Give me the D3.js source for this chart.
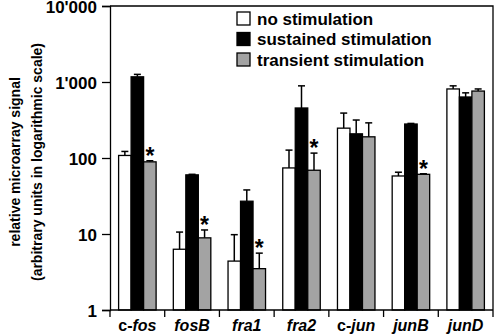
<!DOCTYPE html>
<html><head><meta charset="utf-8">
<script src="https://cdn.jsdelivr.net/npm/d3@7"></script>
<style>
body{margin:0;background:#fff}
svg{display:block}
text{font-family:Arial,"Liberation Sans",sans-serif;font-weight:bold;fill:#000}
</style>
</head><body>
<svg width="496" height="336"></svg>
<script>
const categories=["c-fos","fosB","fra1","fra2","c-jun","junB","junD"];
const seriesNames=["no stimulation","sustained stimulation","transient stimulation"];
const noStim=[108,6.3,4.4,74,247,58,810];
const noStimErr=[122,10.6,9.8,127,390,65,890];
const sustained=[1170,60,27,455,208,280,635];
const sustainedErr=[1260,61,38,890,316,285,720];
const transient=[89,8.9,3.5,69,190,61,760];
const transientErr=[92,11.3,5.6,116,290,62,810];
const significant=[true,true,true,true,false,true,false];
const yTicks=[1,10,100,1000,10000];
const yTickLabels=["1","10","100","1'000","10'000"];

const fills=["#ffffff","#000000","#a3a3a3"];
const values=[noStim,sustained,transient];
const errs=[noStimErr,sustainedErr,transientErr];

const svg=d3.select("svg");
const L=110,R=493,T=6,B=310;
const x=d3.scaleBand().domain(categories).range([L,R]).paddingInner(0).paddingOuter(0);
const gw=37.5;
const xs=d3.scaleBand().domain(seriesNames).range([0,gw]).padding(0);
const y=d3.scaleLog().domain([1,10000]).range([B,T]);

// box
svg.append("path").attr("d",`M${L},${T}H${R}V${B}`).attr("fill","none").attr("stroke","#000").attr("stroke-width",1.3);

// bars
const data=[];
categories.forEach((c,i)=>seriesNames.forEach((s,j)=>data.push({c,s,j,v:values[j][i],e:errs[j][i],i})));
const off=(x.bandwidth()-gw)/2;
const g=svg.append("g");
// error bars
data.forEach(d=>{
  const cx=x(d.c)+off+xs(d.s)+xs.bandwidth()/2;
  g.append("line").attr("x1",cx).attr("x2",cx).attr("y1",y(d.v)).attr("y2",y(d.e)).attr("stroke","#000").attr("stroke-width",1.5);
  g.append("line").attr("x1",cx-3.5).attr("x2",cx+3.5).attr("y1",y(d.e)).attr("y2",y(d.e)).attr("stroke","#000").attr("stroke-width",1.5);
});
g.selectAll("rect").data(data).join("rect")
  .attr("x",d=>x(d.c)+off+xs(d.s))
  .attr("width",xs.bandwidth())
  .attr("y",d=>y(d.v))
  .attr("height",d=>B-y(d.v))
  .attr("fill",d=>fills[d.j])
  .attr("stroke","#000").attr("stroke-width",1.3);

// stars
categories.forEach((c,i)=>{
  if(!significant[i])return;
  const cx=x(c)+off+xs(seriesNames[2])+xs.bandwidth()/2;
  svg.append("text").attr("x",cx).attr("y",y(transientErr[i])+3).attr("text-anchor","middle").attr("font-size",23).text("*");
});

// y axis
const ya=svg.append("g").attr("transform",`translate(${L},0)`)
  .call(d3.axisLeft(y).tickValues(yTicks).tickFormat((d,i)=>yTickLabels[i]).tickSize(8).tickPadding(5));
ya.select(".domain").attr("stroke-width",1.3);
ya.selectAll(".tick line").attr("stroke-width",1.3);
ya.selectAll("text").attr("font-size",17).attr("font-family","Arial, 'Liberation Sans', sans-serif").attr("font-weight","bold").attr("dy","0.36em");

// x axis
const xa=svg.append("g").attr("transform",`translate(0,${B})`);
xa.append("line").attr("x1",L).attr("x2",R).attr("stroke","#000").attr("stroke-width",1.3);
const bounds=categories.map(c=>x(c)).concat([R]);
xa.selectAll("line.tk").data(bounds).join("line").attr("class","tk")
  .attr("x1",d=>d).attr("x2",d=>d).attr("y1",0).attr("y2",7).attr("stroke","#000").attr("stroke-width",1.3);
categories.forEach(c=>{
  const t=xa.append("text").attr("x",x(c)+x.bandwidth()/2).attr("y",21).attr("text-anchor","middle").attr("font-size",16);
  if(c.startsWith("c-")){
    t.append("tspan").text("c-");
    t.append("tspan").attr("font-style","italic").text(c.slice(2));
  } else {
    t.append("tspan").attr("font-style","italic").text(c);
  }
});

// y title
const cy=(T+B)/2+4;
svg.append("text").attr("transform",`translate(20,${cy}) rotate(-90)`).attr("text-anchor","middle").attr("font-size",14).text("relative microarray signal");
svg.append("text").attr("transform",`translate(42,${cy}) rotate(-90)`).attr("text-anchor","middle").attr("font-size",14).text("(arbitrary units in logarithmic scale)");

// legend
seriesNames.forEach((s,j)=>{
  const ly=12+j*20.5;
  svg.append("rect").attr("x",237).attr("y",ly).attr("width",13).attr("height",13).attr("fill",fills[j]).attr("stroke","#000").attr("stroke-width",1.3);
  svg.append("text").attr("x",257).attr("y",ly+12.5).attr("font-size",17).text(s);
});
</script>
</body></html>
